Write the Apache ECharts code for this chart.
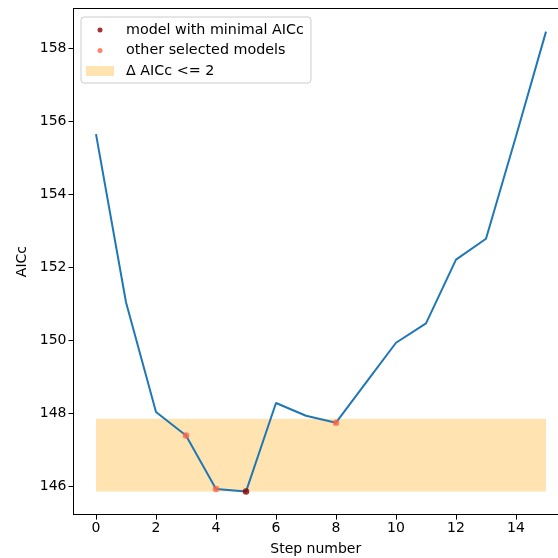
<!DOCTYPE html>
<html>
<head>
<meta charset="utf-8">
<script src="https://cdn.jsdelivr.net/npm/echarts@6/dist/echarts.min.js"></script>
<style>
  html, body { margin: 0; padding: 0; background: #fff; }
  #chart { width: 558px; height: 558px; }
</style>
</head>
<body>
<div id="chart"></div>
<script>
// AICc along the stepwise selection path
const steps = [0, 1, 2, 3, 4, 5, 6, 7, 8, 9, 10, 11, 12, 13, 14, 15];
const aicc = [155.66, 151.05, 148.04, 147.40, 145.93, 145.86, 148.29, 147.94,
              147.75, 148.85, 149.94, 150.47, 152.22, 152.79, 155.60, 158.47];
const bestStep = [5];
const otherSelectedSteps = [3, 4, 8];
const deltaLimit = 2;
const xTicks = [0, 2, 4, 6, 8, 10, 12, 14];
const yTicks = [146, 148, 150, 152, 154, 156, 158];

const FONT = 'DejaVu Sans';
const FS = 14;

const minAicc = Math.min(...aicc);
const bandLow = minAicc;
const bandHigh = minAicc + deltaLimit;

// axis limits with 5% padding on each side of the data extent
const xLo = Math.min(...steps), xHi = Math.max(...steps);
const xPad = (xHi - xLo) * 0.05;
const yLo = Math.min(minAicc, bandLow), yHi = Math.max(...aicc, bandHigh);
const yPad = (yHi - yLo) * 0.05;

// the axes box runs past the right edge of the canvas; only this much is shown
const PLOT_LEFT = 73.5, PLOT_FULL_W = 495, CANVAS_W = 558;
const xMin = xLo - xPad;
const xMaxFull = xHi + xPad;
const xMaxShown = xMin + (xMaxFull - xMin) * (CANVAS_W - PLOT_LEFT) / PLOT_FULL_W;

const linePts = steps.map((s, i) => [s, aicc[i]]);
const bestPts = bestStep.map(s => [s, aicc[steps.indexOf(s)]]);
const otherPts = otherSelectedSteps.map(s => [s, aicc[steps.indexOf(s)]]);

// small dot centred in a 28x10 legend slot
const dotIcon = 'path://M0 0M28 10M16.5 5a2.5 2.5 0 1 1 -5 0a2.5 2.5 0 1 1 5 0z';

const axisFont = { fontFamily: FONT, fontSize: FS, color: '#000' };

const chart = echarts.init(document.getElementById('chart'), null, { renderer: 'canvas' });
chart.setOption({
  animation: false,
  backgroundColor: '#ffffff',
  textStyle: { fontFamily: FONT },
  grid: {
    left: PLOT_LEFT, top: 8.6, right: 0, bottom: 43.4,
    show: false,
    containLabel: false,
    outerBoundsMode: 'none'
  },
  legend: {
    orient: 'vertical',
    left: 81, top: 17,
    padding: [6, 7, 5, 5],
    itemGap: 6.5,
    itemWidth: 28, itemHeight: 10,
    backgroundColor: 'rgba(255,255,255,0.8)',
    borderColor: '#cccccc', borderWidth: 1, borderRadius: 3,
    textStyle: { fontFamily: FONT, fontSize: 14.3, color: '#000', padding: [0, 0, 0, 7] },
    data: [
      { name: 'model with minimal AICc', icon: dotIcon, itemStyle: { color: '#8b0000' } },
      { name: 'other selected models', icon: dotIcon, itemStyle: { color: '#ff6347' } },
      { name: 'Δ AICc <= 2', icon: 'rect', itemStyle: { color: 'rgba(255,165,0,0.3)' } }
    ],
    selectedMode: false
  },
  xAxis: [
    {
      type: 'value',
      position: 'bottom',
      min: xMin, max: xMaxShown,
      name: 'Step number', nameLocation: 'middle', nameGap: 28,
      nameTextStyle: axisFont,
      splitLine: { show: false },
      axisLine: { show: true, onZero: false, lineStyle: { color: '#000', width: 1 } },
      axisTick: { show: true, length: 5, lineStyle: { color: '#000' }, customValues: xTicks },
      axisLabel: Object.assign({ margin: 7, customValues: xTicks }, axisFont)
    },
    {
      // top frame line
      type: 'value',
      position: 'top',
      min: xMin, max: xMaxShown,
      splitLine: { show: false },
      axisLine: { show: true, onZero: false, lineStyle: { color: '#000', width: 1 } },
      axisTick: { show: false },
      axisLabel: { show: false }
    }
  ],
  yAxis: {
    type: 'value',
    min: yLo - yPad, max: yHi + yPad,
    name: 'AICc', nameLocation: 'middle', nameGap: 42, nameRotate: 90,
    nameTextStyle: axisFont,
    splitLine: { show: false },
    axisLine: { show: true, onZero: false, lineStyle: { color: '#000', width: 1 } },
    axisTick: { show: true, length: 5, lineStyle: { color: '#000' }, customValues: yTicks },
    axisLabel: Object.assign({ margin: 7, customValues: yTicks }, axisFont)
  },
  series: [
    {
      name: 'Δ AICc <= 2',
      type: 'line',
      data: [],
      silent: true,
      itemStyle: { color: 'rgba(255,165,0,0.3)' },
      markArea: {
        silent: true,
        itemStyle: { color: 'rgba(255,165,0,0.3)' },
        data: [[{ coord: [xLo, bandLow] }, { coord: [xHi, bandHigh] }]]
      },
      z: 1
    },
    {
      name: 'AICc',
      type: 'line',
      data: linePts,
      showSymbol: false,
      symbol: 'none',
      lineStyle: { color: '#1f77b4', width: 2 },
      itemStyle: { color: '#1f77b4' },
      z: 2
    },
    {
      name: 'model with minimal AICc',
      type: 'scatter',
      data: bestPts,
      symbol: 'circle',
      symbolSize: 6.5,
      itemStyle: { color: '#8b0000' },
      z: 4
    },
    {
      name: 'other selected models',
      type: 'scatter',
      data: otherPts,
      symbol: 'circle',
      symbolSize: 6.5,
      itemStyle: { color: '#ff6347' },
      z: 3
    }
  ]
});
</script>
</body>
</html>
